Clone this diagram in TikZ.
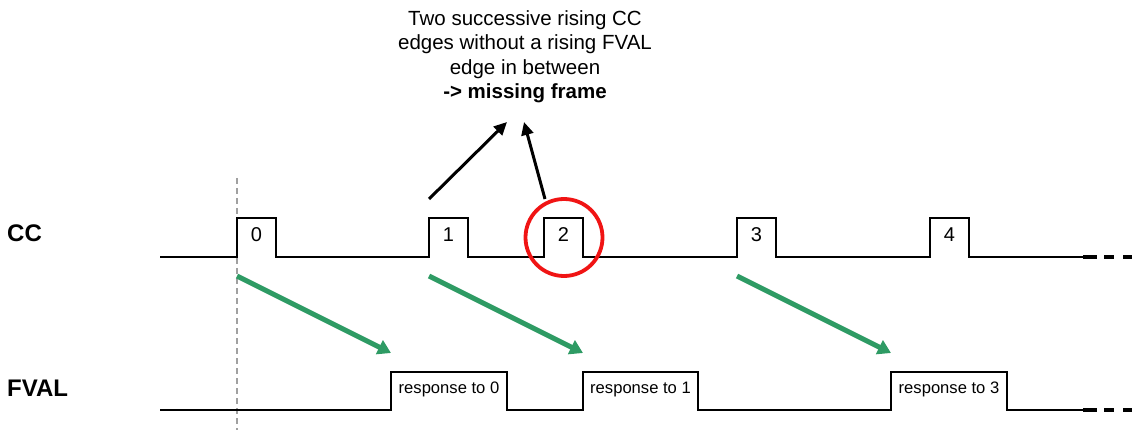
\documentclass[tikz,border=0pt]{standalone}
\usepackage{fontspec}
\setmainfont{Liberation Sans}
\usetikzlibrary{arrows.meta,calc}
\definecolor{sigGreen}{RGB}{46,155,100}
\definecolor{guideGray}{RGB}{160,160,160}
\definecolor{missRed}{RGB}{240,20,20}
\begin{document}
\begin{tikzpicture}[x=1pt,y=-1pt,
  sig/.style={line width=2.7pt, line join=miter, line cap=butt},
  sigend/.style={line width=4pt, dash pattern=on 14pt off 7pt on 10pt off 9pt on 10pt off 10pt},
  digit/.style={anchor=base, inner sep=0pt, font=\fontsize{20}{24}\selectfont},
  resp/.style={anchor=base, inner sep=0pt, font=\fontsize{16.6}{20}\selectfont},
  siglabel/.style={anchor=base west, inner sep=0pt, font=\fontsize{24}{28}\selectfont\bfseries},
  causal/.style={line width=5pt, draw=sigGreen, -{Triangle[length=13pt,width=15pt]}},
  pointer/.style={line width=3pt, -{Triangle[length=13pt,width=12pt]}},
  guide/.style={draw=guideGray, line width=2pt, dash pattern=on 6pt off 4pt},
  ring/.style={draw=missRed, circle, line width=3.8pt, minimum size=77pt, inner sep=0pt}
]
\useasboundingbox (0,0) rectangle (1132,430);

% signal labels
\node[siglabel] (lcc) at (7,242) {CC};
\node[siglabel] (lfv) at (7,396) {FVAL};

% guide line
\coordinate (gtop) at (237,178);
\coordinate (gbot) at (237,430);
\draw[guide] (gtop) -- (gbot);

% CC pulses
\foreach \x/\n in {237/0,429/1,544/2,737/3,930/4}{
  \coordinate (cc\n) at (\x,257);
  \node[digit] (d\n) at (\x+19.5,242) {\n};
}
\coordinate (ccstart) at (160,257);
\coordinate (ccend) at (1083,257);
\coordinate (ccfar) at (1132,257);
\draw[sig] (ccstart) -- (cc0) -- ++(0,-39) -- ++(39,0) -- ++(0,39)
  -- (cc1) -- ++(0,-39) -- ++(39,0) -- ++(0,39)
  -- (cc2) -- ++(0,-39) -- ++(39,0) -- ++(0,39)
  -- (cc3) -- ++(0,-39) -- ++(39,0) -- ++(0,39)
  -- (cc4) -- ++(0,-39) -- ++(39,0) -- ++(0,39)
  -- (ccend);
\draw[sigend] (ccend) -- (ccfar);

% FVAL pulses
\coordinate (fv0) at (391,410);
\coordinate (fv1) at (583,410);
\coordinate (fv3) at (891,410);
\coordinate (fvstart) at (160,410);
\coordinate (fvend) at (1083,410);
\coordinate (fvfar) at (1132,410);
\draw[sig] (fvstart) -- (fv0) -- ++(0,-38) -- ++(116,0) -- ++(0,38)
  -- (fv1) -- ++(0,-38) -- ++(115,0) -- ++(0,38)
  -- (fv3) -- ++(0,-38) -- ++(116,0) -- ++(0,38)
  -- (fvend);
\draw[sigend] (fvend) -- (fvfar);
\node[resp] (r0) at ($(fv0)+(58,-17)$) {response to 0};
\node[resp] (r1) at ($(fv1)+(57.5,-17)$) {response to 1};
\node[resp] (r3) at ($(fv3)+(58,-17)$) {response to 3};

% causal arrows
\draw[causal] ($(cc0)+(0,19)$) -- ($(fv0)+(0,-57)$);
\draw[causal] ($(cc1)+(0,19)$) -- ($(fv1)+(0,-57)$);
\draw[causal] ($(cc3)+(0,19)$) -- ($(fv3)+(0,-57)$);

% missing frame marker
\node[ring] (miss) at (564,237.5) {};

% annotation
\node[anchor=north, inner sep=0pt, align=center,
  font=\fontsize{20.5}{24.3}\selectfont] (note) at (525,10.5)
  {Two successive rising CC\\edges without a rising FVAL\\edge in between\\\textbf{-> missing frame}};
\coordinate (tip1) at (507,122);
\coordinate (tip2) at (524,122);
\draw[pointer] ($(cc1)+(0,-58)$) -- (tip1);
\draw[pointer] ($(cc2)+(1,-58)$) -- (tip2);
\end{tikzpicture}
\end{document}
